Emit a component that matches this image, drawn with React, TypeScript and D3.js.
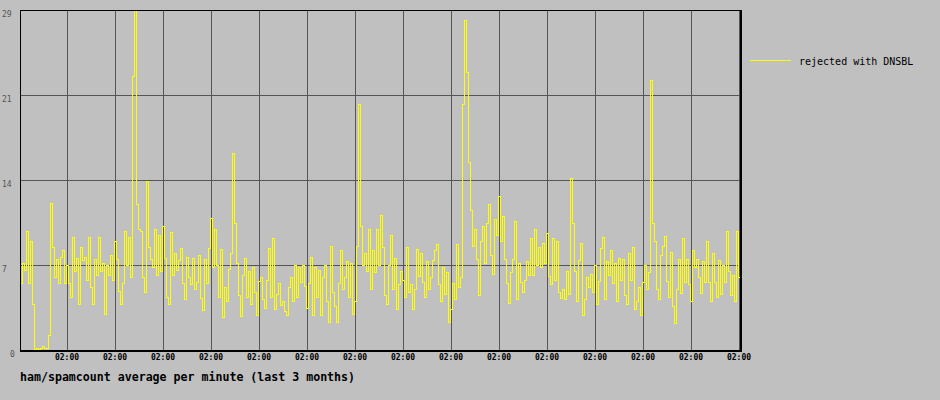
import React from "react";
import * as d3 from "d3";

// ---- data (hourly averages, 360 hours = 15 days) ----
const values: number[] = [
  // 0-59
  5.5, 7.2, 6.6, 9.8, 5.5, 9.0, 3.8, 0.1, 0.2, 0.1, 0.2, 0.3, 0.2, 0.2, 1.2, 12.1, 8.5, 6.0, 7.5, 5.5,
  7.7, 8.2, 5.5, 7.0, 5.5, 4.4, 9.3, 6.5, 7.6, 3.8, 8.5, 7.4, 7.7, 5.8, 9.3, 5.2, 3.8, 7.5, 6.2, 9.3,
  6.5, 7.2, 3.0, 7.0, 6.2, 7.8, 5.8, 9.0, 7.5, 4.9, 3.8, 5.5, 9.8, 7.0, 9.3, 6.0, 22.6, 28.0, 12.0, 10.0,
  // 60-119
  9.8, 6.0, 4.8, 13.9, 8.5, 7.5, 6.8, 10.0, 6.2, 9.5, 6.5, 10.2, 7.6, 4.4, 3.8, 9.7, 6.2, 8.0, 6.6, 7.4,
  8.4, 5.5, 4.2, 7.7, 6.0, 5.4, 7.6, 5.0, 5.6, 7.8, 4.3, 3.3, 7.5, 5.5, 8.4, 10.9, 6.8, 10.0, 7.0, 4.4,
  8.3, 2.7, 5.2, 4.0, 6.7, 8.0, 16.2, 10.5, 7.2, 4.5, 2.8, 6.2, 7.6, 4.4, 6.5, 3.8, 6.8, 4.8, 2.9, 5.7,
  // 120-179
  6.0, 4.2, 3.5, 5.8, 8.4, 4.4, 9.2, 3.4, 4.6, 5.5, 3.7, 4.0, 3.2, 2.9, 5.2, 6.0, 4.0, 7.0, 4.4, 6.8,
  5.6, 7.0, 5.3, 3.5, 5.5, 7.7, 2.9, 6.8, 4.4, 6.6, 2.9, 6.0, 7.0, 4.0, 2.3, 8.6, 4.8, 3.6, 2.3, 5.5,
  8.2, 5.0, 6.0, 7.3, 4.4, 7.2, 3.0, 4.0, 8.6, 20.3, 10.2, 7.0, 8.0, 6.5, 10.0, 5.0, 8.2, 6.4, 10.0, 7.0,
  // 180-239
  11.1, 8.5, 4.5, 3.8, 7.0, 9.5, 5.0, 7.6, 3.4, 5.4, 6.5, 5.8, 4.4, 8.5, 4.8, 5.4, 3.4, 5.0, 8.3, 6.1,
  8.0, 5.6, 4.4, 7.3, 5.0, 6.0, 7.4, 8.2, 8.7, 5.4, 4.0, 6.8, 4.6, 6.4, 2.3, 3.4, 5.5, 4.2, 8.7, 5.2,
  6.0, 20.3, 27.2, 22.9, 15.5, 11.5, 8.6, 10.0, 7.5, 4.5, 9.0, 10.2, 7.2, 10.5, 12.0, 7.8, 6.3, 10.8, 9.5, 12.7,
  // 240-299
  9.0, 11.0, 7.5, 5.5, 3.9, 6.4, 7.5, 10.6, 4.2, 7.2, 5.6, 4.8, 5.8, 7.3, 6.2, 9.2, 6.2, 10.0, 7.0, 8.5,
  6.8, 8.8, 7.2, 9.6, 6.1, 5.4, 9.2, 5.8, 9.0, 4.8, 4.3, 5.0, 4.2, 6.5, 4.6, 14.2, 10.5, 6.5, 4.0, 7.4,
  8.8, 2.9, 4.2, 6.0, 5.2, 6.3, 4.8, 7.0, 3.8, 5.7, 8.4, 9.3, 4.2, 7.3, 6.2, 8.2, 5.5, 7.2, 4.0, 7.6,
  // 300-359
  5.8, 7.5, 4.5, 3.8, 8.0, 5.8, 8.5, 3.4, 4.0, 5.2, 2.9, 5.6, 7.0, 5.0, 6.4, 22.2, 10.5, 9.0, 5.0, 4.2,
  7.8, 8.6, 9.4, 5.7, 4.4, 8.1, 3.6, 2.2, 5.0, 7.5, 4.7, 9.2, 5.6, 7.5, 5.4, 4.0, 8.2, 6.8, 7.5, 6.0,
  4.7, 7.3, 5.6, 9.0, 5.6, 4.0, 8.0, 5.6, 4.4, 7.4, 4.6, 7.0, 5.6, 9.8, 6.5, 4.5, 6.2, 4.0, 9.8, 6.0,
];

const yMax = 28;
const yTickLabels: string[] = ["0", "7", "14", "21", "29"];
const xTickLabel = "02:00";
const seriesName = "rejected with DNSBL";
const title = "ham/spamcount average per minute (last 3 months)";

const START = new Date(2024, 0, 1, 2, 30);
const FIRST_TICK = new Date(2024, 0, 2, 2, 0);
const DAYS = 15;

export default function App() {
  const W = 940, H = 400;
  const left = 20, right = 740, top = 10, bottom = 350;

  const x = d3
    .scaleTime()
    .domain([START, d3.timeHour.offset(START, values.length)])
    .range([left, right]);
  const y = d3.scaleLinear().domain([0, yMax]).range([bottom, top]);

  const pts = values.map((v, i) => ({ t: d3.timeHour.offset(START, i), v }));
  pts.push({ t: d3.timeHour.offset(START, values.length), v: values[values.length - 1] });

  const line = d3
    .line<{ t: Date; v: number }>()
    .x((d) => Math.round(x(d.t)))
    .y((d) => Math.round(y(d.v)))
    .curve(d3.curveStepAfter);

  const xTicks = d3.range(DAYS).map((k) => d3.timeHour.offset(FIRST_TICK, 24 * k));
  const yTicks = d3.range(5).map((k) => (yMax * k) / 4);

  const gridColor = "#555555";
  const mono = "'DejaVu Sans Mono', monospace";

  return (
    <svg
      width={W}
      height={H}
      style={{ position: "absolute", left: 0, top: 0, display: "block" }}
    >
      <rect x={0} y={0} width={W} height={H} fill="#c0c0c0" />
      <g shapeRendering="crispEdges">
        {xTicks.map((t, i) => (
          <line
            key={"vx" + i}
            x1={Math.round(x(t)) + 0.5}
            x2={Math.round(x(t)) + 0.5}
            y1={top}
            y2={bottom}
            stroke={gridColor}
            strokeWidth={1}
          />
        ))}
        {yTicks.slice(1, 4).map((v, i) => (
          <line
            key={"hy" + i}
            x1={left}
            x2={right}
            y1={Math.round(y(v)) + 0.5}
            y2={Math.round(y(v)) + 0.5}
            stroke={gridColor}
            strokeWidth={1}
          />
        ))}
        <path
          d={line(pts) || ""}
          transform="translate(0.5,0.5)"
          fill="none"
          stroke="#ffff00"
          strokeWidth={1}
        />
        {/* frame */}
        <line x1={left + 0.5} x2={left + 0.5} y1={top} y2={bottom + 1} stroke="#000" />
        <line x1={left} x2={right + 1} y1={top + 0.5} y2={top + 0.5} stroke="#000" />
        <line x1={left} x2={right + 2} y1={bottom + 1} y2={bottom + 1} stroke="#000" strokeWidth={2} />
        <line x1={right + 1} x2={right + 1} y1={top} y2={bottom + 2} stroke="#000" strokeWidth={2} />
      </g>
      {yTicks.map((v, i) => (
        <text
          key={"yl" + i}
          x={i === 0 ? 10 : 2}
          y={y(v) + 7}
          fontFamily={mono}
          fontSize={8}
          fill="#555"
        >
          {yTickLabels[i]}
        </text>
      ))}
      {xTicks.map((t, i) => (
        <text
          key={"xl" + i}
          x={x(t)}
          y={360}
          textAnchor="middle"
          fontFamily={mono}
          fontSize={8}
          fontWeight="bold"
          fill="#000"
        >
          {xTickLabel}
        </text>
      ))}
      <text x={20} y={381} fontFamily={mono} fontSize={11.6} fontWeight="bold" fill="#000">
        {title}
      </text>
      <line x1={750} x2={791} y1={60.5} y2={60.5} stroke="#ffff00" strokeWidth={1} shapeRendering="crispEdges" />
      <text x={799} y={65} fontFamily={mono} fontSize={10} fill="#000">
        {seriesName}
      </text>
    </svg>
  );
}
